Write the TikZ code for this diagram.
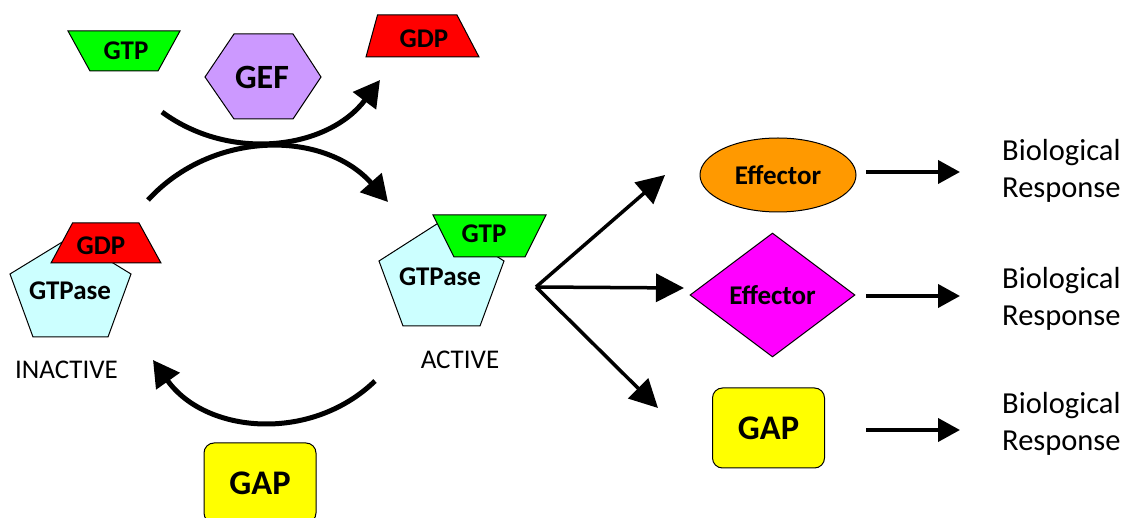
\documentclass[tikz,border=0pt]{standalone}
\usepackage{fontspec}
\setmainfont{Carlito}
\usetikzlibrary{arrows.meta,shapes.geometric}
\definecolor{gtpgreen}{HTML}{00FF00}
\definecolor{gdpred}{HTML}{FF0000}
\definecolor{gefpurple}{HTML}{CC99FF}
\definecolor{gtpasecyan}{HTML}{CCFFFF}
\definecolor{efforange}{HTML}{FF9900}
\definecolor{effmagenta}{HTML}{FF00FF}
\definecolor{gapyellow}{HTML}{FFFF00}
\tikzset{
  outline/.style={draw=black, line width=1pt},
  boldlbl/.style={inner sep=0pt, font=\fontsize{#1}{#1}\selectfont\bfseries},
  boldlbl/.default=27,
  plainlbl/.style={inner sep=0pt, font=\fontsize{27}{32}\selectfont},
  biolbl/.style={inner sep=0pt, anchor=west, align=left, font=\fontsize{30.5}{37}\selectfont},
  gapbox/.style={outline, fill=gapyellow, rounded corners=10pt, minimum width=112pt, minimum height=80pt, inner sep=0pt, font=\fontsize{34.5}{34.5}\selectfont\bfseries},
  cyclearrow/.style={line width=5pt, -{Triangle[length=26pt,width=28pt]}},
  brancharrow/.style={line width=3.5pt, -{Triangle[length=28pt,width=28pt]}},
  resparrow/.style={line width=4pt, -{Triangle[length=22pt,width=23pt]}}
}
\begin{document}
\begin{tikzpicture}[x=1pt,y=-1pt]
\useasboundingbox (0,0) rectangle (1125,518);
% ---- top row molecules
\draw[outline, fill=gtpgreen] (68,31) -- (180,31) -- (158,71) -- (90,71) -- cycle;
\node[boldlbl] (gtptop) at (126,51) {GTP};
\draw[outline, fill=gefpurple] (205,77) -- (234,34) -- (293,34) -- (321,77) -- (293,119) -- (234,119) -- cycle;
\node[boldlbl=34] (gef) at (262,77) {GEF};
\draw[outline, fill=gdpred] (377.5,15) -- (457,15) -- (479,57) -- (366,57) -- cycle;
\node[boldlbl] (gdptop) at (424,39) {GDP};
% ---- inactive GTPase
\draw[outline, fill=gtpasecyan] (70.5,237) -- (131,274) -- (108,337) -- (33,337) -- (10,274) -- cycle;
\draw[outline, fill=gdpred] (72.5,223) -- (139,223) -- (161,263) -- (51,263) -- cycle;
\node[boldlbl] (gdpleft) at (101,246) {GDP};
\node[boldlbl] (gtpaseleft) at (70,291) {GTPase};
\node[plainlbl] (inactive) at (66.5,370) {INACTIVE};
% ---- active GTPase
\draw[outline, fill=gtpasecyan] (441.5,221) -- (504,261) -- (480,326) -- (403,326) -- (379,261) -- cycle;
\draw[outline, fill=gtpgreen] (433,215) -- (546,215) -- (525,257) -- (454,257) -- cycle;
\node[boldlbl] (gtpright) at (484,234) {GTP};
\node[boldlbl] (gtpaseright) at (440,277) {GTPase};
\node[plainlbl] (active) at (460,360) {ACTIVE};
% ---- GAP (cycle)
\node[gapbox] (gapcycle) at (260,483) {GAP};
% ---- cycle arrows
\coordinate (gtpin) at (162,112);
\coordinate (gdpout) at (380,80);
\coordinate (inactstart) at (148,200);
\coordinate (acttip) at (388,202);
\coordinate (actstart) at (375,381);
\coordinate (inacttip) at (153,360);
\draw[cyclearrow] (gtpin) .. controls (231.1,162.9) and (328.5,148.7) .. (gdpout);
\draw[cyclearrow] (inactstart) .. controls (212.7,129.4) and (324.5,130.2) .. (acttip);
\draw[cyclearrow] (actstart) .. controls (310.2,443.3) and (205,433.4) .. (inacttip);
% ---- effectors
\node[outline, fill=efforange, ellipse, minimum width=156pt, minimum height=74pt, inner sep=0pt, font=\fontsize{27}{27}\selectfont\bfseries] (eff1) at (778,175) {Effector};
\node[outline, fill=effmagenta, diamond, minimum width=165pt, minimum height=124pt, inner sep=0pt, font=\fontsize{27}{27}\selectfont\bfseries] (eff2) at (772.5,295) {Effector};
\node[gapbox] (gapright) at (768.5,428) {GAP};
% ---- branch arrows
\coordinate (hub) at (536,287);
\coordinate (tip1) at (665,175);
\coordinate (tip2) at (684,288);
\coordinate (tip3) at (658,408);
\draw[brancharrow] (hub) -- (tip1);
\draw[brancharrow] (hub) -- (tip2);
\draw[brancharrow] (hub) -- (tip3);
% ---- responses
\node[biolbl] (bio1) at (1002,171) {Biological\\Response};
\node[biolbl] (bio2) at (1002,299) {Biological\\Response};
\node[biolbl] (bio3) at (1002,424) {Biological\\Response};
\coordinate (r1s) at (866,172); \coordinate (r1e) at (960,172);
\coordinate (r2s) at (866,296); \coordinate (r2e) at (960,296);
\coordinate (r3s) at (866,430); \coordinate (r3e) at (960,430);
\draw[resparrow] (r1s) -- (r1e);
\draw[resparrow] (r2s) -- (r2e);
\draw[resparrow] (r3s) -- (r3e);
\end{tikzpicture}
\end{document}
